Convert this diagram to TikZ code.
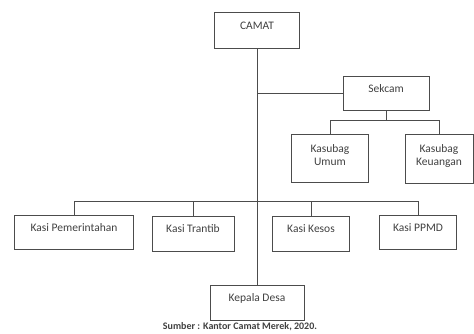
\documentclass[tikz,border=0pt]{standalone}
\usepackage{fontspec}
\setmainfont{Carlito}
\begin{document}
\begin{tikzpicture}[x=1pt, y=-1pt,
	every node/.append style = {font=\fontsize{11.5}{13}\selectfont, text=black!75},
	jabatan/.style = {draw=black!70, line width=0.8pt, align=center, inner sep=1pt, text depth=9pt},
	garis/.style = {draw=black!70, line width=0.8pt}]
	\useasboundingbox (0,0) rectangle (474,333);

	\node[jabatan, minimum width=85pt, minimum height=36pt] (camat) at (257,30) {CAMAT};
	\node[jabatan, minimum width=86pt, minimum height=34pt] (sekcam) at (386,93) {Sekcam};

	\node[jabatan, minimum width=77pt, minimum height=48pt, text depth=6pt] (umum) at (330,158) {Kasubag\\Umum};
	\node[jabatan, minimum width=68pt, minimum height=49pt, text depth=6pt] (keu) at (439,158.5) {Kasubag\\Keuangan};

	\node[jabatan, minimum width=119pt, minimum height=34pt] (pem) at (74,232) {Kasi Pemerintahan};
	\node[jabatan, minimum width=82pt, minimum height=35pt] (trantib) at (193,233.5) {Kasi Trantib};
	\node[jabatan, minimum width=77pt, minimum height=35pt] (kesos) at (311,233.5) {Kasi Kesos};
	\node[jabatan, minimum width=77pt, minimum height=34pt] (ppmd) at (418,232) {Kasi PPMD};

	\node[jabatan, minimum width=94pt, minimum height=35pt] (desa) at (257,302.5) {Kepala Desa};

	\node[font=\fontsize{10}{11}\selectfont\bfseries] (sumber) at (240,326.5) {Sumber : Kantor Camat Merek, 2020.};

	\coordinate (sbus) at (386,120);
	\coordinate (kbus) at (257,201);

	\path[garis] (camat) edge (desa)
		(camat.south |- sekcam.west) edge (sekcam.west);
	\path[garis] (sekcam) edge (sbus)
		(sbus -| umum) edge (sbus -| keu)
		(sbus -| umum) edge (umum)
		(sbus -| keu) edge (keu);
	\path[garis] (kbus -| pem) edge (kbus -| ppmd)
		(kbus -| pem) edge (pem)
		(kbus -| trantib) edge (trantib)
		(kbus -| kesos) edge (kesos)
		(kbus -| ppmd) edge (ppmd);
\end{tikzpicture}
\end{document}
